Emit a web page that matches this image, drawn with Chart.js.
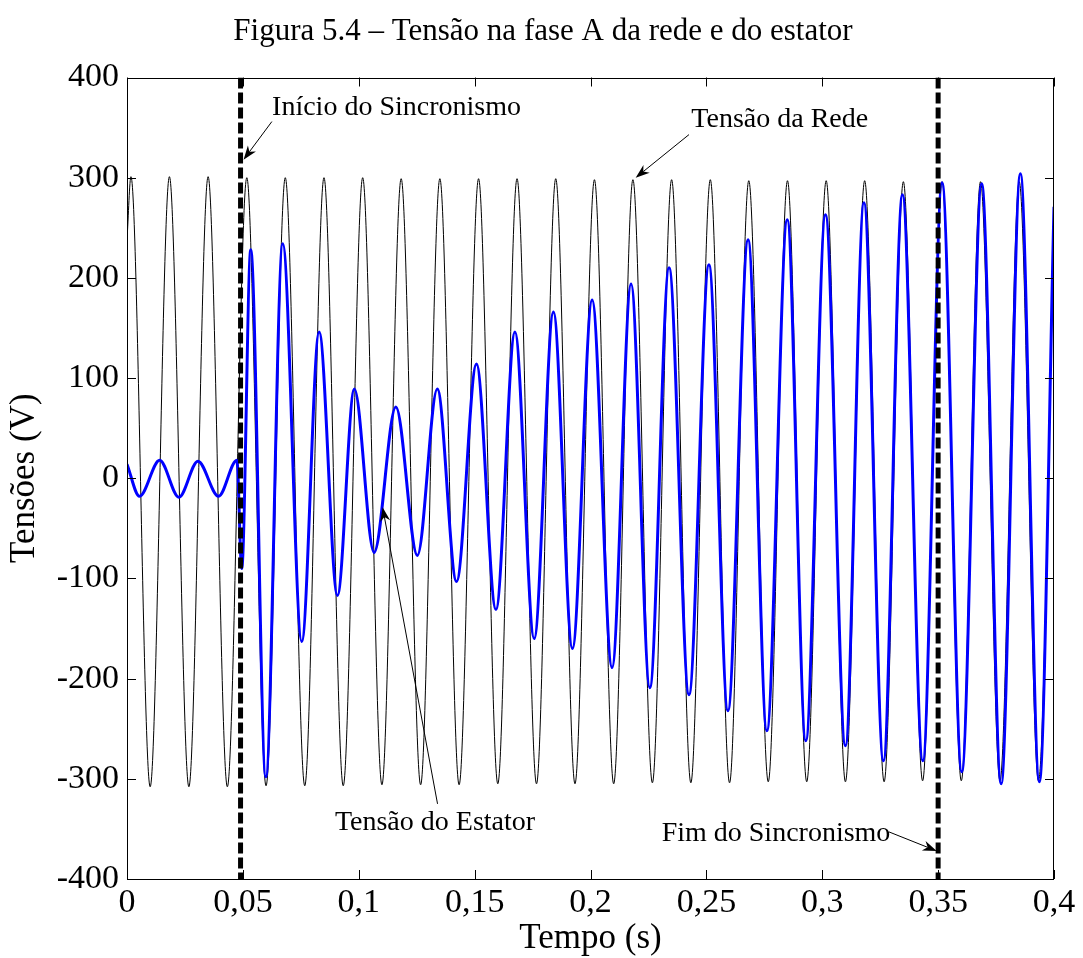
<!DOCTYPE html>
<html>
<head>
<meta charset="utf-8">
<script src="https://cdn.jsdelivr.net/npm/chart.js@4.4.1/dist/chart.umd.min.js"></script>
<style>
  html, body { margin: 0; padding: 0; background: #fff; }
</style>
</head>
<body>
<canvas id="tensoesChart" width="1083" height="958"></canvas>
<script>
// Tensão da rede: picos e vales
const redeTempo = [0, 0.0017, 0.0100, 0.0183, 0.0267, 0.0350, 0.0433, 0.0517, 0.0600, 0.0683, 0.0767,
  0.0850, 0.0933, 0.1017, 0.1100, 0.1183, 0.1267, 0.1350, 0.1433, 0.1517, 0.1600, 0.1683, 0.1767,
  0.1850, 0.1933, 0.2017, 0.2100, 0.2183, 0.2267, 0.2350, 0.2433, 0.2517, 0.2600, 0.2683, 0.2767,
  0.2850, 0.2933, 0.3017, 0.3100, 0.3183, 0.3267, 0.3350, 0.3433, 0.3517, 0.3600, 0.3683, 0.3767,
  0.3850, 0.3933, 0.4000];
const redeTensao = [238, 301, -308, 301, -308, 301, -308, 300, -307, 300, -307, 300, -307, 300, -306,
  299, -306, 299, -306, 299, -305, 299, -305, 299, -305, 298, -305, 298, -304, 298, -304, 298, -304,
  297, -303, 297, -303, 297, -303, 297, -303, 296, -302, 296, -302, 296, -302, 296, -302, 243];

// Tensão do estator
const estatorTempo = [0, 0.0054, 0.0141, 0.0224, 0.0306, 0.0395, 0.0474, 0.0495, 0.0534, 0.0599,
  0.0672, 0.0754, 0.0829, 0.0908, 0.0981, 0.1066, 0.1160, 0.1253, 0.1339, 0.1422, 0.1508, 0.1592,
  0.1674, 0.1757, 0.1840, 0.1922, 0.2007, 0.2093, 0.2175, 0.2256, 0.2339, 0.2425, 0.2511, 0.2593,
  0.2680, 0.2761, 0.2849, 0.2929, 0.3014, 0.3100, 0.3180, 0.3264, 0.3346, 0.3434, 0.3517, 0.3602,
  0.3688, 0.3772, 0.3855, 0.3937, 0.4000];
const estatorTensao = [14, -18, 18, -19, 17, -18, 18, -90, 228, -298, 234, -163, 146, -117, 89, -74,
  71, -77, 89, -103, 114, -131, 146, -160, 166, -170, 178, -189, 194, -209, 210, -216, 213, -232,
  238, -252, 258, -262, 263, -267, 275, -282, 283, -282, 295, -293, 294, -305, 304, -303, 271];

// início e fim do sincronismo
const sincronismoTempo = [0.049, 0.35];

const tempoTicks = [0, 0.05, 0.1, 0.15, 0.2, 0.25, 0.3, 0.35, 0.4];
const tempoTickLabels = ['0', '0,05', '0,1', '0,15', '0,2', '0,25', '0,3', '0,35', '0,4'];
const tensaoTicks = [-400, -300, -200, -100, 0, 100, 200, 300, 400];
const tensaoTickLabels = ['-400', '-300', '-200', '-100', '0', '100', '200', '300', '400'];

const titulo = 'Figura 5.4 – Tensão na fase A da rede e do estator';
const serif = "'Liberation Serif', 'Times New Roman', serif";

// textos com setas (coordenadas nos eixos)
const anotacoes = [
  { texto: 'Início do Sincronismo', pos: [0.0626, 363], de: [0.0625, 356], ponta: [0.0503, 318] },
  { texto: 'Tensão da Rede', pos: [0.2435, 351], de: [0.2425, 343], ponta: [0.2195, 300] },
  { texto: 'Tensão do Estator', pos: [0.0897, -351], de: [0.1340, -325], ponta: [0.1103, -29] },
  { texto: 'Fim do Sincronismo', pos: [0.2307, -362], de: [0.3288, -353], ponta: [0.3494, -372] }
];

function seta(ctx, x1, y1, x2, y2) {
  const dx = x2 - x1, dy = y2 - y1;
  const len = Math.hypot(dx, dy);
  const ux = dx / len, uy = dy / len;
  const nx = -uy, ny = ux;
  const L = 14, W = 5;
  const bx = x2 - ux * L, by = y2 - uy * L;
  const mx = x2 - ux * L * 0.7, my = y2 - uy * L * 0.7;
  ctx.beginPath();
  ctx.moveTo(x1, y1);
  ctx.lineTo(mx, my);
  ctx.stroke();
  ctx.beginPath();
  ctx.moveTo(x2, y2);
  ctx.lineTo(bx + nx * W, by + ny * W);
  ctx.lineTo(mx, my);
  ctx.lineTo(bx - nx * W, by - ny * W);
  ctx.closePath();
  ctx.fill();
}

const molduraPlugin = {
  id: 'moldura',
  afterDatasetsDraw(chart) {
    const { ctx, chartArea: a, scales: { x, y } } = chart;
    ctx.save();
    ctx.strokeStyle = '#000';
    ctx.fillStyle = '#000';
    ctx.lineWidth = 1;
    ctx.strokeRect(Math.round(a.left) + 0.5, Math.round(a.top) + 0.5,
      Math.round(a.width) - 1, Math.round(a.height) - 1);

    const tl = 9;
    ctx.beginPath();
    tempoTicks.forEach(v => {
      const px = Math.round(x.getPixelForValue(v)) + 0.5;
      ctx.moveTo(px, a.bottom); ctx.lineTo(px, a.bottom - tl);
      ctx.moveTo(px, a.top); ctx.lineTo(px, a.top + tl);
    });
    tensaoTicks.forEach(v => {
      const py = Math.round(y.getPixelForValue(v)) + 0.5;
      ctx.moveTo(a.left, py); ctx.lineTo(a.left + tl, py);
      ctx.moveTo(a.right, py); ctx.lineTo(a.right - tl, py);
    });
    ctx.stroke();

    ctx.font = '28px ' + serif;
    ctx.textAlign = 'left';
    ctx.textBaseline = 'alphabetic';
    anotacoes.forEach(n => {
      ctx.fillText(n.texto, x.getPixelForValue(n.pos[0]), y.getPixelForValue(n.pos[1]));
      seta(ctx,
        x.getPixelForValue(n.de[0]), y.getPixelForValue(n.de[1]),
        x.getPixelForValue(n.ponta[0]), y.getPixelForValue(n.ponta[1]));
    });

    // título centrado na figura inteira
    ctx.font = '31px ' + serif;
    ctx.textAlign = 'center';
    ctx.fillText(titulo, chart.width / 2 + 1.5, 40);
    ctx.restore();
  }
};

const datasets = [
  ...sincronismoTempo.map(t => ({
    label: 'Sincronismo',
    data: [{ x: t, y: 400 }, { x: t, y: -400 }],
    borderColor: '#000',
    borderWidth: 5,
    borderDash: [11, 4],
    pointRadius: 0,
    order: 0
  })),
  {
    label: 'Tensão do Estator',
    data: estatorTempo.map((t, i) => ({ x: t, y: estatorTensao[i] })),
    borderColor: '#0000ff',
    borderWidth: 3,
    pointRadius: 0,
    cubicInterpolationMode: 'monotone',
    borderJoinStyle: 'round',
    order: 1
  },
  {
    label: 'Tensão da Rede',
    data: redeTempo.map((t, i) => ({ x: t, y: redeTensao[i] })),
    borderColor: '#000',
    borderWidth: 1,
    pointRadius: 0,
    cubicInterpolationMode: 'monotone',
    order: 2
  }
];

new Chart(document.getElementById('tensoesChart').getContext('2d'), {
  type: 'line',
  data: { datasets },
  options: {
    responsive: false,
    devicePixelRatio: 1,
    animation: false,
    layout: { padding: { left: 0, right: 29, top: 77.5, bottom: 0 } },
    scales: {
      x: {
        type: 'linear',
        min: 0,
        max: 0.4,
        grid: { display: false, drawTicks: false },
        border: { display: false },
        afterBuildTicks: s => { s.ticks = tempoTicks.map(v => ({ value: v })); },
        afterFit: s => { s.height = 79; },
        ticks: {
          color: '#000',
          font: { family: serif, size: 34 },
          padding: 4,
          maxRotation: 0,
          autoSkip: false,
          callback: (v, i) => tempoTickLabels[i]
        },
        title: {
          display: true,
          text: 'Tempo (s)',
          color: '#000',
          font: { family: serif, size: 35, lineHeight: 1 },
          padding: { top: 0, bottom: 2 }
        }
      },
      y: {
        type: 'linear',
        min: -400,
        max: 400,
        grid: { display: false, drawTicks: false },
        border: { display: false },
        afterBuildTicks: s => { s.ticks = tensaoTicks.map(v => ({ value: v })); },
        afterFit: s => { s.width = 127; },
        ticks: {
          color: '#000',
          font: { family: serif, size: 34 },
          padding: 8,
          autoSkip: false,
          callback: (v, i) => tensaoTickLabels[i]
        },
        title: {
          display: true,
          text: 'Tensões (V)',
          color: '#000',
          font: { family: serif, size: 35 },
          padding: { top: 4, bottom: 0 }
        }
      }
    },
    plugins: {
      legend: { display: false },
      tooltip: { enabled: false },
      title: { display: false }
    }
  },
  plugins: [molduraPlugin]
});
</script>
</body>
</html>
